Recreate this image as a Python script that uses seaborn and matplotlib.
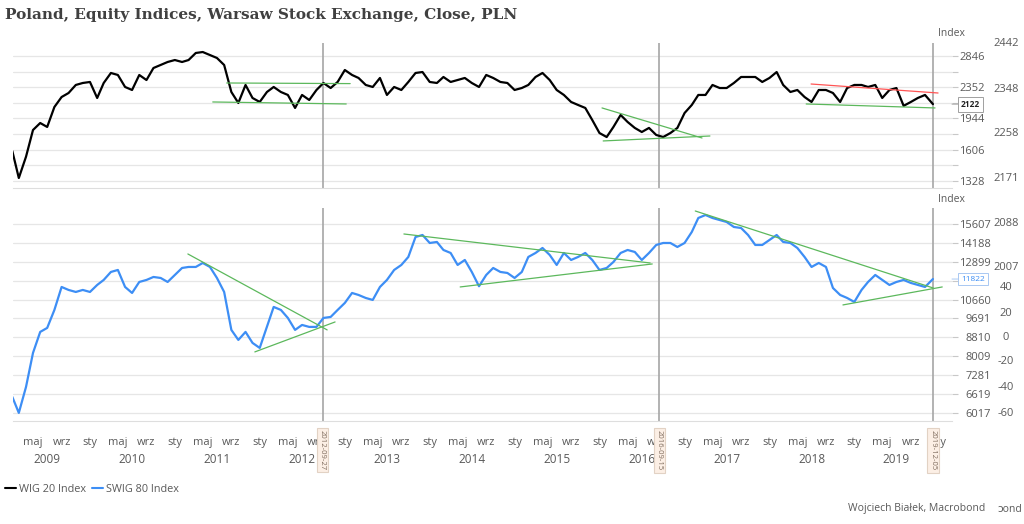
import pandas as pd
import matplotlib
matplotlib.use("Agg")
import matplotlib.pyplot as plt
import matplotlib.dates as mdates
from matplotlib.ticker import NullFormatter, FuncFormatter
from matplotlib.lines import Line2D
import seaborn as sns

sns.set_style("white")
plt.rcParams['font.family'] = ['Open Sans', 'DejaVu Sans']

# monthly closes, Feb 2009 .. Nov 2019, last point 2019-12-05
wig20 = [1594, 1352, 1540, 1812, 1891, 1846, 2085, 2216, 2271, 2385, 2414,
         2429, 2203, 2414, 2566, 2535, 2356, 2313, 2535, 2458, 2645, 2694, 2744,
         2777, 2744, 2777, 2899, 2916, 2863, 2812, 2694, 2285, 2137, 2385, 2203,
         2150, 2285, 2356, 2285, 2244, 2073, 2244, 2176, 2313, 2414, 2341, 2429,
         2613, 2535, 2489, 2385, 2356, 2489, 2244, 2356, 2313, 2429, 2566, 2581,
         2429, 2414, 2504, 2429, 2458, 2489, 2414, 2356, 2535, 2489, 2429, 2414,
         2313, 2341, 2385, 2504, 2566, 2458, 2313, 2244, 2150, 2111, 2073, 1926,
         1779, 1736, 1846, 1986, 1903, 1835, 1790, 1835, 1758, 1736, 1779, 1835,
         2010, 2111, 2244, 2244, 2385, 2341, 2341, 2414, 2504, 2504, 2504, 2429,
         2489, 2581, 2385, 2285, 2313, 2216, 2150, 2313, 2313, 2271, 2150, 2341,
         2385, 2385, 2356, 2385, 2203, 2313, 2341, 2100, 2150, 2203, 2244,
         2122]
swig80 = [6524, 6017, 6861, 8144, 9054, 9238, 10115, 11359, 11189, 11076, 11189,
          11076, 11474, 11768, 12252, 12376, 11359, 11020, 11649, 11768, 11946, 11886, 11649,
          12067, 12501, 12565, 12565, 12820, 12565, 11886, 11076, 9146, 8695, 9054, 8565,
          8351, 9285, 10270, 10115, 9715, 9146, 9378, 9285, 9285, 9715, 9764, 10115,
          10479, 11020, 10909, 10745, 10638, 11359, 11768, 12376, 12692, 13215, 14616, 14764,
          14181, 14253, 13689, 13484, 12692, 13016, 12252, 11400, 12067, 12501, 12252, 12190,
          11886, 12252, 13215, 13484, 13828, 13349, 12692, 13484, 13016, 13215, 13484, 13016,
          12376, 12501, 12885, 13484, 13689, 13552, 13016, 13484, 14039, 14181, 14181, 13898,
          14181, 14990, 16086, 16331, 16086, 15925, 15765, 15373, 15295, 14764, 14039, 14039,
          14397, 14764, 14253, 14181, 13828, 13215, 12565, 12820, 12565, 11301, 10909, 10745,
          10532, 11189, 11649, 12067, 11768, 11474, 11649, 11768, 11591, 11474, 11359,
          11822]
dates = list(pd.date_range("2009-02-01", "2019-11-01", freq="MS")) + [pd.Timestamp("2019-12-05")]

wig_ticks = [1328, 1606, 1944, 2352, 2846]
wig_grid = [1461, 1768, 2139, 2588]
swig_ticks = [6017, 6619, 7281, 8009, 8810, 9691, 10660, 11726, 12899, 14188, 15607]
swig_labels = ["6017", "6619", "7281", "8009", "8810", "9691", "10660", "", "12899", "14188", "15607"]
markers = ["2012-09-27", "2016-09-15", "2019-12-05"]
month_names = {1: "sty", 5: "maj", 9: "wrz"}

# trend lines: start date, start value, end date, end value, colour
GREEN = "#5cb85c"
RED = "#ff5555"
wig_trends = [
    ("2011-08-12", 2414, "2013-01-24", 2405, GREEN),
    ("2011-06-13", 2150, "2013-01-07", 2124, GREEN),
    ("2016-01-12", 2073, "2017-03-17", 1726, GREEN),
    ("2016-01-17", 1695, "2017-04-20", 1747, GREEN),
    ("2018-06-29", 2399, "2019-12-27", 2271, RED),
    ("2018-06-08", 2124, "2019-12-14", 2073, GREEN),
]
swig_trends = [
    ("2011-02-26", 13416, "2012-10-17", 9146, GREEN),
    ("2011-12-11", 8185, "2012-11-20", 9520, GREEN),
    ("2013-09-12", 14839, "2016-08-06", 12820, GREEN),
    ("2014-05-12", 11359, "2016-08-15", 12756, GREEN),
    ("2017-02-16", 16665, "2019-12-06", 11301, GREEN),
    ("2018-11-13", 10374, "2020-01-14", 11359, GREEN),
]

BLUE = "#3d8ef5"
GREY = "#595959"
df = pd.DataFrame({"date": dates, "WIG 20 Index": wig20, "SWIG 80 Index": swig80})

fig = plt.figure(figsize=(10.24, 5.24), dpi=100)
ax1 = fig.add_axes([13/1024, 1-188/524, 939/1024, 145/524])
ax2 = fig.add_axes([13/1024, 1-421/524, 939/1024, 213/524])

sns.lineplot(data=df, x="date", y="WIG 20 Index", ax=ax1, color="black", lw=1.6, zorder=3)
sns.lineplot(data=df, x="date", y="SWIG 80 Index", ax=ax2, color=BLUE, lw=1.6, zorder=3)

for ax, trends in ((ax1, wig_trends), (ax2, swig_trends)):
    for s, v1, e, v2, c in trends:
        ax.plot([mdates.date2num(pd.Timestamp(s)), mdates.date2num(pd.Timestamp(e))], [v1, v2],
                color=c, lw=0.9, zorder=4)
    for d in markers:
        ax.axvline(mdates.date2num(pd.Timestamp(d)), color="#a6a6a6", lw=1.2, zorder=2)

xlim = (mdates.date2num(pd.Timestamp("2009-02-04")), mdates.date2num(pd.Timestamp("2020-02-25")))
for ax, ticks, grid, labels, lim, pad in (
        (ax1, wig_ticks, wig_grid, [str(t) for t in wig_ticks], (1272, 3081), 19.5),
        (ax2, swig_ticks, [], swig_labels, (5776, 16918), 23.8)):
    ax.set_yscale("log")
    ax.set_xlim(*xlim)
    ax.set_ylim(*lim)
    ax.yaxis.tick_right()
    ax.set_yticks(ticks)
    ax.set_yticklabels(labels)
    ax.set_yticks(grid, minor=True)
    ax.yaxis.set_minor_formatter(NullFormatter())
    ax.tick_params(axis="y", which="both", right=True, left=False, length=4, width=0.8,
                   color="#c8c8c8", labelsize=8, labelcolor=GREY, pad=pad)
    ax.grid(True, which="both", axis="y", color="#e6e6e6", lw=0.9)
    ax.grid(False, axis="x")
    ax.set_xlabel("")
    ax.set_ylabel("")
    for side in ("top", "left", "right"):
        ax.spines[side].set_visible(False)
    ax.spines["bottom"].set_color("#dedede")

ax1.tick_params(axis="x", which="both", bottom=False, labelbottom=False)

ax2.xaxis.set_major_locator(mdates.MonthLocator(bymonth=[7]))
ax2.xaxis.set_major_formatter(mdates.DateFormatter("%Y"))
ax2.xaxis.set_minor_locator(mdates.MonthLocator(bymonth=[1, 5, 9]))
ax2.xaxis.set_minor_formatter(FuncFormatter(lambda x, pos: month_names[mdates.num2date(x).month]))
ax2.tick_params(axis="x", which="major", length=0, pad=23, labelsize=8.5, labelcolor=GREY)
ax2.tick_params(axis="x", which="minor", length=2.5, width=0.8, color="#b0b0b0", pad=9,
                labelsize=8, labelcolor=GREY)

# date markers below the axis (they sit over the month labels, as in the source)
for d in markers:
    ax2.annotate(d, xy=(mdates.date2num(pd.Timestamp(d)), 0), xycoords=("data", "axes fraction"),
                 xytext=(0, -6.5), textcoords="offset points", rotation=270, ha="center", va="top",
                 fontsize=5.5, color="#7d6a5c", annotation_clip=False, zorder=6,
                 bbox=dict(boxstyle="square,pad=0.3", fc="#fcefe5", ec="#e2d2c4", lw=0.8))

# last value tags
for ax, val, col, wt, ec in ((ax1, wig20[-1], "#222222", "bold", "#a0a0a0"),
                             (ax2, swig80[-1], BLUE, "normal", "#a9c8f2")):
    ax.annotate(str(val), xy=(1.0, val), xycoords=("axes fraction", "data"),
                xytext=(6.5, 0), textcoords="offset points", ha="left", va="center",
                fontsize=6, fontweight=wt, color=col, annotation_clip=False, zorder=6,
                bbox=dict(boxstyle="square,pad=0.35", fc="white", ec=ec, lw=0.7),
                arrowprops=dict(arrowstyle="-", color=ec, lw=0.7, shrinkA=0, shrinkB=0))

fig.text(5/1024, 1-15/524, "Poland, Equity Indices, Warsaw Stock Exchange, Close, PLN",
         ha="left", va="center", fontsize=11, fontweight="bold", family="DejaVu Serif",
         color="#404040")
fig.text(938/1024, 1-34/524, "Index", ha="left", va="center", fontsize=7.5, color=GREY)
fig.text(938/1024, 1-199/524, "Index", ha="left", va="center", fontsize=7.5, color=GREY)

for txt, y in zip(["2442", "2348", "2258", "2171"], [44, 89, 134, 179]):
    fig.text(1006/1024, 1-y/524, txt, ha="center", va="center", fontsize=8, color=GREY)
for txt, y in zip(["2088", "2007", "40", "20", "0", "-20", "-40", "-60"],
                  [224, 268, 287, 313, 337, 362, 388, 413]):
    fig.text(1006/1024, 1-y/524, txt, ha="center", va="center", fontsize=8, color=GREY)

handles = [Line2D([], [], color="black", lw=1.5), Line2D([], [], color=BLUE, lw=1.5)]
fig.legend(handles, ["WIG 20 Index", "SWIG 80 Index"], loc="center left",
           bbox_to_anchor=(0.002, 1-489/524), ncol=2, frameon=False, fontsize=7.8,
           handlelength=1.0, handletextpad=0.3, columnspacing=0.5, borderpad=0,
           borderaxespad=0.3, labelcolor=GREY)

fig.text(985/1024, 1-509/524, "Wojciech Białek, Macrobond", ha="right", va="center",
         fontsize=7.5, color=GREY)
fig.text(997/1024, 1-509/524, "ɔond", ha="left", va="center", fontsize=7.5, color=GREY)

for ax in (ax1, ax2):
    for lab in ax.get_yticklabels():
        lab.set_horizontalalignment("right")

fig.savefig("out.png", dpi=100, facecolor="white")
